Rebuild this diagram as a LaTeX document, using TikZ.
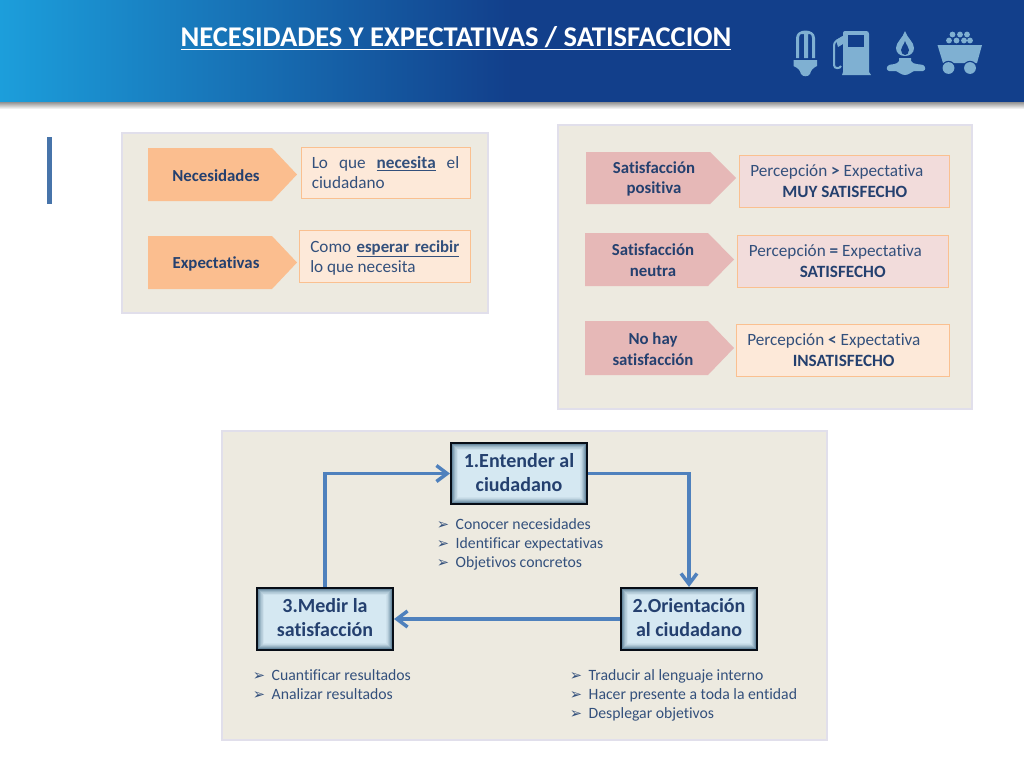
\documentclass[tikz,border=0pt]{standalone}
\usepackage{fontspec}
\setmainfont{Carlito}[Ligatures=NoCommon]
\newfontfamily\dejavu{DejaVu Sans}
\usetikzlibrary{fit,arrows.meta,calc}
\definecolor{ink}{HTML}{24406F}
\definecolor{inksoft}{HTML}{33507C}
\definecolor{panelfill}{HTML}{EDEAE0}
\definecolor{panelline}{HTML}{E1DFEB}
\definecolor{orangearrow}{HTML}{FBBE8F}
\definecolor{pinkarrow}{HTML}{E6B8B7}
\definecolor{peachbox}{HTML}{FDE9D9}
\definecolor{pinkbox}{HTML}{F2DCDB}
\definecolor{boxline}{HTML}{FAC090}
\definecolor{linkblue}{HTML}{4F81BD}
\definecolor{iconblue}{HTML}{7FB0D2}
\definecolor{headdark}{HTML}{123F8B}
\definecolor{headlight}{HTML}{1C9EDB}
\definecolor{glowdark}{HTML}{3F6680}
\definecolor{glowlight}{HTML}{D5E8F2}
\pgfdeclarehorizontalshading{headshade}{100bp}{color(0bp)=(headlight); color(25bp)=(headlight); color(50bp)=(headdark); color(100bp)=(headdark)}
\newcommand{\bul}{{\dejavu\fontsize{11}{10}\selectfont ➢}\hspace{5pt}}
\tikzset{
  x=0.75pt,y=-0.75pt,
  panel/.style={fill=panelfill,draw=panelline,line width=1.6pt},
  tagorange/.style={fill=orangearrow},
  tagpink/.style={fill=pinkarrow},
  tagtext/.style={inner sep=0pt,align=center,text=ink,font=\fontsize{12.6}{15.6}\selectfont\bfseries},
  infobox/.style={fit={#1},inner sep=0pt,draw=boxline,line width=0.75pt},
  linetext/.style={inner sep=0pt,anchor=base west,text=inksoft,font=\fontsize{12.9}{14}\selectfont},
  boldline/.style={linetext,font=\fontsize{12.9}{14}\selectfont\bfseries,text=ink},
  stepbox/.style={fit={#1},inner sep=0pt,draw=black!80!ink,line width=1.5pt},
  steptext/.style={inner sep=0pt,align=center,text=ink,font=\fontsize{15}{18}\selectfont\bfseries},
  listtext/.style={inner sep=0pt,anchor=north west,align=left,text=inksoft,font=\fontsize{11.8}{14.25}\selectfont},
  link/.style={draw=linkblue,line width=2.6pt,-{Straight Barb[length=8pt,width=12pt,line width=2.6pt]}},
  icon/.style={fill=iconblue},
}
\newcommand{\tag}[6]{% x0 y0 notch x1 y1 style
  \fill[#6] (#1,#2) -- (#3,#2) -- (#4,{(#2+#5)/2}) -- (#3,#5) -- (#1,#5) -- cycle;}
\newcommand{\glowbox}[4]{%
  \foreach \i in {0,...,12}{
    \pgfmathsetmacro{\m}{min(100,100*(\i/12)^0.7)}
    \fill[glowlight!\m!glowdark] ({#1+\i*0.55},{#2+\i*0.55}) rectangle ({#3-\i*0.55},{#4-\i*0.55});}}
\begin{document}
\begin{tikzpicture}
\useasboundingbox (0,0) rectangle (1024,768);
\fill[white] (0,0) rectangle (1024,768);
% header
\fill[top color=black!55,bottom color=white] (0,100) rectangle (1024,109);
\path[shading=headshade] (0,0) rectangle (1024,101);
\node[inner sep=0pt,anchor=base,text=white,font=\fontsize{21.4}{24}\selectfont\bfseries] (title) at (456,46.5) {\underline{NECESIDADES Y EXPECTATIVAS / SATISFACCION}};
% icons: bulb
\fill[icon] (796,58) -- (796,38) .. controls (796,28) and (815,28) .. (815,38) -- (815,58) -- (812,58) -- (812,38) .. controls (812,34) and (809,33) .. (808,34) -- (808,58) -- (804,58) -- (804,34) .. controls (802,33) and (799,34) .. (799,38) -- (799,58) -- cycle;
\fill[icon] (793.5,60) -- (817,60) -- (817,66) .. controls (813,68) and (811,70) .. (810,74) .. controls (808,77) and (803,77) .. (801,74) .. controls (800,70) and (798,68) .. (793.5,66) -- cycle;
% icons: pump
\fill[icon] (845,31) -- (866,31) .. controls (868,31) and (869,32) .. (869,34) -- (869,72) -- (871,75) -- (842,75) -- (843,72) -- (843,33) .. controls (843,32) and (844,31) .. (845,31) -- cycle;
\fill[headdark] (847.5,35) rectangle (864,47);
\draw[iconblue,line width=1.5pt,fill=none] (843,37) -- (838,40) .. controls (834,42) and (834,44) .. (834,48) -- (834,65) .. controls (834,69) and (840,69) .. (841,66);
\fill[icon] (843,36) -- (836,40) -- (838,47) -- (843,44) -- cycle;
% icons: flame
\fill[icon] (905,31) .. controls (907,38) and (914,42) .. (914,48) .. controls (914,53) and (910,56) .. (905,56) .. controls (900,56) and (896,53) .. (896,48) .. controls (896,42) and (903,38) .. (905,31) -- cycle;
\fill[headdark] (905,41) .. controls (906,45) and (909,47) .. (909,50) .. controls (909,53) and (907,55) .. (905,55) .. controls (903,55) and (901,53) .. (901,50) .. controls (901,47) and (904,45) .. (905,41) -- cycle;
\fill[icon] (899,58) -- (911,58) -- (911,61) .. controls (913,65) and (921,64) .. (923,65) .. controls (926,67) and (926,70) .. (923,71) -- (914,71) .. controls (911,72) and (909,75) .. (905,75) .. controls (901,75) and (899,72) .. (896,71) -- (889,71) .. controls (886,70) and (886,67) .. (889,65) .. controls (891,64) and (897,65) .. (899,61) -- cycle;
% icons: cart
\fill[icon] (937.5,45) -- (982,45) -- (977,63) -- (943,63) -- cycle;
\foreach \cx in {948.5,970}{\fill[headdark] (\cx,68) circle (7.2);\fill[icon] (\cx,68) circle (5.9);}
\foreach \cx/\cy in {952.5/34.5,960/34.5,967/34.5,949/40.5,956.5/40.5,964/40.5,970/40.5}{\fill[icon] (\cx,\cy) circle (2.9);}
% side mark
\fill[linkblue!90!black] (47,137) rectangle (52,204);
% panels
\path[panel] (122,133) rectangle (488,313);
\path[panel] (558,125) rectangle (972,409);
\path[panel] (222,431) rectangle (827,740);
% left panel
\tag{148}{148}{272}{297}{201}{tagorange}
\node[tagtext] (tnec) at (216,175.5) {Necesidades};
\node[infobox={(301,147)(470,198)},fill=peachbox] (bnec) {};
\node[linetext,text width=110.6pt] (lnec1) at (311.5,168) {Lo\hfill que\hfill \textbf{\underline{necesita}}\hfill el};
\node[linetext] (lnec2) at (311.5,188) {ciudadano};
\tag{148}{236}{272}{297}{289}{tagorange}
\node[tagtext] (texp) at (216,263.5) {Expectativas};
\node[infobox={(299.5,230.5)(470,282)},fill=peachbox] (bexp) {};
\node[linetext,text width=111.8pt] (lexp1) at (310,252) {Como\hfill {\fontsize{12.6}{14}\selectfont\textbf{\underline{esperar recibir}}}};
\node[linetext] (lexp2) at (310,272) {lo que necesita};
% right panel
\tag{586}{152}{710}{736}{204}{tagpink}
\node[tagtext] (tpos) at (654,179) {Satisfacción\\positiva};
\node[infobox={(739,155)(949,207)},fill=pinkbox] (bpos) {};
\node[linetext] (lpos1) at (750,176) {Percepción \textbf{>} Expectativa};
\node[boldline] (lpos2) at (782,197) {MUY SATISFECHO};
\tag{585}{233}{708}{734}{286}{tagpink}
\node[tagtext] (tneu) at (653,260) {Satisfacción\\neutra};
\node[infobox={(737,235)(948,287)},fill=pinkbox] (bneu) {};
\node[linetext] (lneu1) at (748.5,256) {Percepción \textbf{=} Expectativa};
\node[boldline] (lneu2) at (799.5,277) {SATISFECHO};
\tag{585}{321}{708}{734}{375}{tagpink}
\node[tagtext] (tno) at (653,349) {No hay\\satisfacción};
\node[infobox={(736,324)(949,376)},fill=peachbox] (bno) {};
\node[linetext] (lno1) at (747,345) {Percepción \textbf{<} Expectativa};
\node[boldline] (lno2) at (792.5,366) {INSATISFECHO};
% process boxes
\glowbox{451}{443}{587}{504}
\glowbox{621}{588}{757}{650}
\glowbox{257}{588}{393}{650}
\node[stepbox={(451,443)(587,504)}] (n1) {};
\node[stepbox={(621,588)(757,650)}] (n2) {};
\node[stepbox={(257,588)(393,650)}] (n3) {};
\node[steptext] (s1) at ($(n1)+(0,-1)$) {1.Entender al\\ciudadano};
\node[steptext] (s2) at ($(n2)+(0,-1)$) {2.Orientación\\al ciudadano};
\node[steptext] (s3) at ($(n3)+(0,-1)$) {3.Medir la\\satisfacción};
\draw[link] (n1.east) -| (n2.north);
\draw[link] (n2.west) -- (n3.east);
\draw[link] (n3.north) |- (n1.west);
% lists
\node[listtext] (list1) at (436.5,518) {\bul Conocer necesidades\\\bul Identificar expectativas\\\bul Objetivos concretos};
\node[listtext] (list3) at (252.5,669) {\bul Cuantificar resultados\\\bul Analizar resultados};
\node[listtext] (list2) at (569.5,669) {\bul Traducir al lenguaje interno\\\bul Hacer presente a toda la entidad\\\bul Desplegar objetivos};
\end{tikzpicture}
\end{document}
